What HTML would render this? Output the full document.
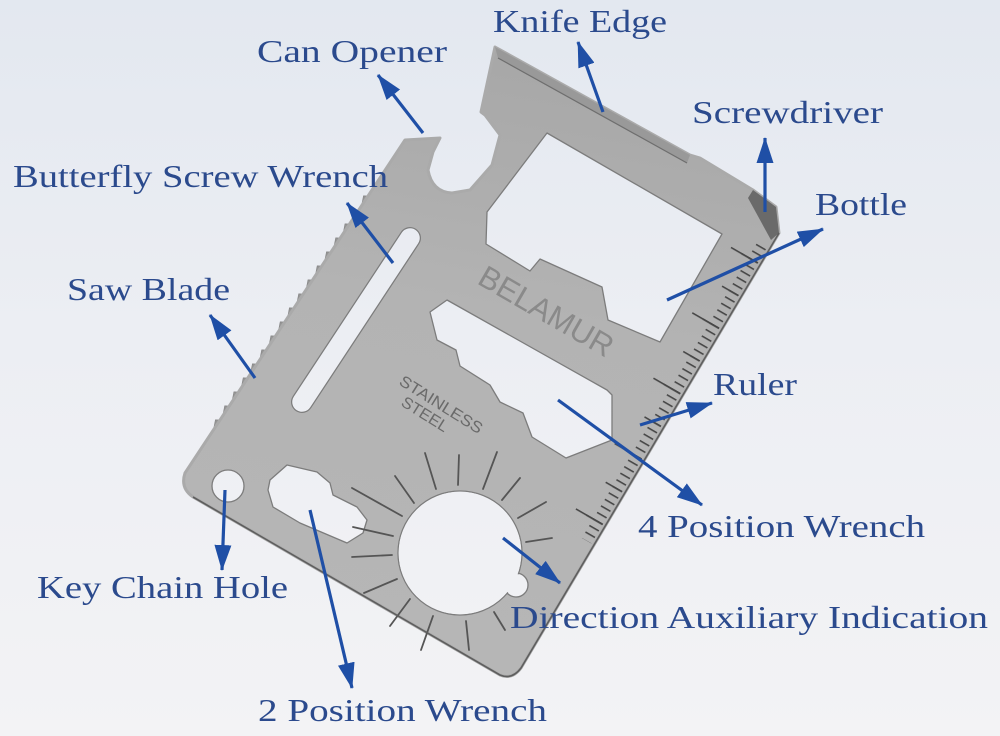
<!DOCTYPE html>
<html>
<head>
<meta charset="utf-8">
<style>
html,body{margin:0;padding:0;background:#eceef3;}
svg{display:block;}
.lbl{font-family:"Liberation Serif",serif;font-size:32px;fill:#2b4a8d;}
</style>
</head>
<body>
<svg width="1000" height="736" viewBox="0 0 1000 736" xmlns="http://www.w3.org/2000/svg">
<defs>
  <linearGradient id="bg" gradientUnits="userSpaceOnUse" x1="0" y1="0" x2="0" y2="736">
    <stop offset="0" stop-color="#e3e8f0"/>
    <stop offset="0.45" stop-color="#eceef3"/>
    <stop offset="1" stop-color="#f3f3f5"/>
  </linearGradient>
  <linearGradient id="metal" gradientUnits="userSpaceOnUse" x1="480" y1="60" x2="380" y2="660">
    <stop offset="0" stop-color="#a8a8a8"/>
    <stop offset="0.4" stop-color="#b3b3b3"/>
    <stop offset="1" stop-color="#b6b6b6"/>
  </linearGradient>
  <pattern id="t1" width="300" height="7.6" patternUnits="userSpaceOnUse" patternTransform="rotate(30)">
    <rect x="0" y="0" width="300" height="1.6" fill="#474747"/>
  </pattern>
  <pattern id="t5" width="300" height="38" patternUnits="userSpaceOnUse" patternTransform="rotate(30)">
    <rect x="0" y="0" width="300" height="1.6" fill="#474747"/>
  </pattern>
  <pattern id="t10" width="300" height="76" patternUnits="userSpaceOnUse" patternTransform="rotate(30)">
    <rect x="0" y="0" width="300" height="1.6" fill="#474747"/>
  </pattern>
  <marker id="ah" markerUnits="userSpaceOnUse" markerWidth="26" markerHeight="17" viewBox="0 0 26 17" refX="25" refY="8.5" orient="auto">
    <path d="M0,0 L26,8.5 L0,17 Z" fill="#1f4fa6"/>
  </marker>
</defs>

<rect x="0" y="0" width="1000" height="736" fill="url(#bg)"/>

<!-- saw teeth -->
<g fill="#959595" stroke="#858585" stroke-width="0.6">
  <polygon points="213.4,430 215.4,419.8 220.0,420"/>
  <polygon points="222.7,416 224.7,405.8 229.3,406"/>
  <polygon points="231.9,402 233.9,391.8 238.5,392"/>
  <polygon points="241.2,388 243.2,377.8 247.8,378"/>
  <polygon points="250.4,374 252.4,363.8 257.0,364"/>
  <polygon points="259.7,360 261.7,349.8 266.3,350"/>
  <polygon points="268.9,346 270.9,335.8 275.5,336"/>
  <polygon points="278.2,332 280.2,321.8 284.8,322"/>
  <polygon points="287.5,318 289.4,307.8 294.1,308"/>
  <polygon points="296.7,304 298.7,293.8 303.3,294"/>
  <polygon points="306.0,290 308.0,279.8 312.6,280"/>
  <polygon points="315.2,276 317.2,265.8 321.8,266"/>
  <polygon points="324.5,262 326.5,251.8 331.1,252"/>
  <polygon points="333.7,248 335.7,237.8 340.3,238"/>
  <polygon points="343.0,234 345.0,223.8 349.6,224"/>
  <polygon points="352.2,220 354.2,209.8 358.8,210"/>
  <polygon points="361.5,206 363.5,195.8 368.1,196"/>
</g>

<!-- card body -->
<path d="M495,47 L690,155 L700,158 L753,190 L776,207 L779,233 L521,668 Q512,680 500,675 L193,497 Q180,488 185,473 L405,140 L440,138 L433,152 L428,170 Q432,192 452,193 L470,190 L492,165 L500,135 L485,115 L481,112 Z"
      fill="url(#metal)" stroke="#aaaaaa" stroke-width="3" stroke-linejoin="round"/>

<!-- knife bevel -->
<polygon points="495,47 690,155 687,163 498,58" fill="#959595" opacity="0.8"/>
<line x1="498" y1="58" x2="687" y2="163" stroke="#6e6e6e" stroke-width="1.2"/>
<!-- screwdriver tip -->
<polygon points="753,190 776,207 779,233 771,240 748,198" fill="#6a6a6a"/>

<!-- ruler ticks -->
<polygon points="766.4,248.5 591.4,543.5 581.9,538 756.9,243" fill="url(#t1)"/>
<polygon points="766.4,248.5 591.4,543.5 575,534 750,239" fill="url(#t5)"/>
<polygon points="766.4,248.5 591.4,543.5 564.6,528 739.6,233" fill="url(#t10)"/>

<!-- holes -->
<g fill="url(#bg)" stroke="#7c7c7c" stroke-width="1.3" stroke-linejoin="round">
  <path d="M547,133 L722,234 L660,342 L608,320 L602,287 L540,259 L530,271 L486,244 L487,212 Z"/>
  <path d="M430,312 L447,300 L607,390 L612,395 L612,440 L566,458 L532,437 L523,413 L500,402 L490,385 L460,366 L456,350 L437,340 Z"/>
  <path d="M270,480 L287,465 L317,472 L330,483 L333,495 L357,507 L367,520 L363,533 L347,543 L300,523 L273,507 L268,490 Z"/>
  <circle cx="228" cy="486" r="16"/>
  <circle cx="516" cy="585" r="12"/>
  <circle cx="460" cy="553" r="62"/>
</g>
<circle cx="516" cy="585" r="11" fill="url(#bg)"/>
<circle cx="460" cy="553" r="61.3" fill="url(#bg)"/>
<line x1="302" y1="402" x2="410" y2="238" stroke="#7c7c7c" stroke-width="22" stroke-linecap="round"/>
<line x1="302" y1="402" x2="410" y2="238" stroke="url(#bg)" stroke-width="19.5" stroke-linecap="round"/>

<!-- compass rays -->
<g stroke="#555555" stroke-width="1.8" stroke-linecap="round">
  <line x1="393" y1="536" x2="353" y2="527"/>
  <line x1="392" y1="555" x2="352" y2="557"/>
  <line x1="397" y1="579" x2="364" y2="593"/>
  <line x1="410" y1="599" x2="390" y2="626"/>
  <line x1="433" y1="616" x2="421" y2="650"/>
  <line x1="466" y1="621" x2="469" y2="650"/>
  <line x1="494" y1="612" x2="505" y2="630"/>
  <line x1="518" y1="518" x2="546" y2="502"/>
  <line x1="526" y1="542" x2="552" y2="538"/>
  <line x1="502" y1="500" x2="520" y2="478"/>
  <line x1="483" y1="489" x2="497" y2="452"/>
  <line x1="458" y1="485" x2="459" y2="455"/>
  <line x1="436" y1="489" x2="425" y2="453"/>
  <line x1="414" y1="503" x2="395" y2="476"/>
  <line x1="402" y1="516" x2="352" y2="488"/>
</g>

<!-- engraved text -->
<text x="476" y="283" transform="rotate(30 476 283)" font-family="Liberation Sans, sans-serif" font-size="31" fill="#8a8a8a" textLength="150" lengthAdjust="spacingAndGlyphs">BELAMUR</text>
<text x="398" y="384" transform="rotate(32 398 384)" font-family="Liberation Sans, sans-serif" font-size="16" fill="#6a6a6a" textLength="95" lengthAdjust="spacingAndGlyphs">STAINLESS</text>
<text x="400" y="405" transform="rotate(32 400 405)" font-family="Liberation Sans, sans-serif" font-size="16" fill="#6a6a6a" textLength="52" lengthAdjust="spacingAndGlyphs">STEEL</text>

<!-- dark edges -->
<path d="M779,233 L521,668 Q512,680 500,675 L193,497" fill="none" stroke="#5e5e5e" stroke-width="1.6"/>

<!-- arrows -->
<g stroke="#1f4fa6" stroke-width="3.2" fill="none" marker-end="url(#ah)">
  <line x1="603" y1="112" x2="578" y2="42"/>
  <line x1="423" y1="133" x2="378" y2="75"/>
  <line x1="765" y1="212" x2="765" y2="138"/>
  <line x1="393" y1="263" x2="347" y2="203"/>
  <line x1="667" y1="300" x2="823" y2="229"/>
  <line x1="255" y1="378" x2="210" y2="315"/>
  <line x1="640" y1="425" x2="712" y2="403"/>
  <line x1="558" y1="400" x2="702" y2="505"/>
  <line x1="503" y1="538" x2="560" y2="583"/>
  <line x1="225" y1="490" x2="222" y2="570"/>
  <line x1="310" y1="510" x2="352" y2="688"/>
</g>

<!-- labels -->
<text class="lbl" x="493" y="32" textLength="174" lengthAdjust="spacingAndGlyphs">Knife Edge</text>
<text class="lbl" x="257" y="62" textLength="190" lengthAdjust="spacingAndGlyphs">Can Opener</text>
<text class="lbl" x="692" y="123" textLength="191" lengthAdjust="spacingAndGlyphs">Screwdriver</text>
<text class="lbl" x="13" y="187" textLength="375" lengthAdjust="spacingAndGlyphs">Butterfly Screw Wrench</text>
<text class="lbl" x="815" y="215" textLength="92" lengthAdjust="spacingAndGlyphs">Bottle</text>
<text class="lbl" x="67" y="300" textLength="163" lengthAdjust="spacingAndGlyphs">Saw Blade</text>
<text class="lbl" x="713" y="395" textLength="84" lengthAdjust="spacingAndGlyphs">Ruler</text>
<text class="lbl" x="638" y="537" textLength="287" lengthAdjust="spacingAndGlyphs">4 Position Wrench</text>
<text class="lbl" x="37" y="598" textLength="251" lengthAdjust="spacingAndGlyphs">Key Chain Hole</text>
<text class="lbl" x="510" y="628" textLength="478" lengthAdjust="spacingAndGlyphs">Direction Auxiliary Indication</text>
<text class="lbl" x="258" y="721" textLength="289" lengthAdjust="spacingAndGlyphs">2 Position Wrench</text>
</svg>
</body>
</html>
